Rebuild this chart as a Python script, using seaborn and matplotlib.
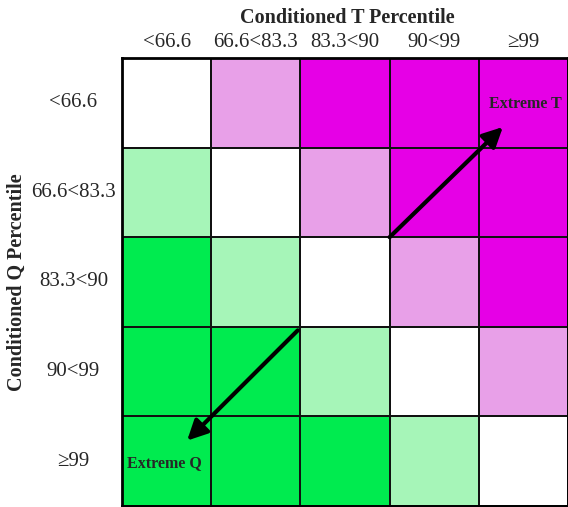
import matplotlib
matplotlib.use('Agg')
import matplotlib.pyplot as plt
from matplotlib.colors import ListedColormap
import seaborn as sns
import numpy as np
import pandas as pd

# percentile classes for both axes
t_labels = ['<66.6', '66.6<83.3', '83.3<90', '90<99', '\u226599']
q_labels = ['<66.6', '66.6<83.3', '83.3<90', '90<99', '\u226599']

# relative extremeness: + means T more extreme, - means Q more extreme
row_lt666 = [0, 1, 2, 2, 2]
row_666_833 = [-1, 0, 1, 2, 2]
row_833_90 = [-2, -1, 0, 1, 2]
row_90_99 = [-2, -2, -1, 0, 1]
row_ge99 = [-2, -2, -2, -1, 0]

class_colors = ['#00EB4F', '#A6F5B8', '#FFFFFF', '#E8A0E8', '#E600E6']

df = pd.DataFrame([row_lt666, row_666_833, row_833_90, row_90_99, row_ge99],
                  index=q_labels, columns=t_labels)

sns.set_theme(style='white')
plt.rcParams['font.family'] = ['Liberation Serif', 'DejaVu Serif']

fig = plt.figure(figsize=(5.68, 5.07), dpi=100)
ax = fig.add_axes([122 / 568, 1 / 507, 446 / 568, 448 / 507])

sns.heatmap(df, ax=ax, cmap=ListedColormap(class_colors), vmin=-2.5, vmax=2.5,
            cbar=False, linewidths=1.1, linecolor='#111111', square=False)

for s in ax.spines.values():
    s.set_visible(True)
    s.set_color('black')
    s.set_linewidth(2.0)

ax.xaxis.tick_top()
ax.tick_params(axis='both', length=0, labelsize=15)
ax.tick_params(axis='x', pad=4)
ax.tick_params(axis='y', pad=35)
ax.set_xticklabels(t_labels, rotation=0)
ax.set_yticklabels(q_labels, rotation=0, ha='center')

ax.set_xlabel('Conditioned T Percentile', fontsize=14.5, fontweight='bold')
ax.xaxis.set_label_position('top')
ax.xaxis.label.set_va('center')
ax.xaxis.set_label_coords(0.505, 1 + 40 / 448)

ax.set_ylabel('Conditioned Q Percentile', fontsize=14.5, fontweight='bold')
ax.yaxis.label.set_va('center')
ax.yaxis.set_label_coords(-105 / 446, 0.5)

arrow = dict(arrowstyle='-|>', lw=3, color='black', mutation_scale=30,
             shrinkA=0, shrinkB=0)
ax.annotate('', xy=(4.27, 0.77), xytext=(3.0, 2.0), arrowprops=arrow)
ax.annotate('', xy=(0.73, 4.27), xytext=(1.97, 3.04), arrowprops=arrow)
ax.text(4.52, 0.51, 'Extreme T', ha='center', va='center', fontsize=11.5,
        fontweight='bold')
ax.text(0.48, 4.52, 'Extreme Q', ha='center', va='center', fontsize=11.5,
        fontweight='bold')

fig.savefig('out.png', dpi=100)
